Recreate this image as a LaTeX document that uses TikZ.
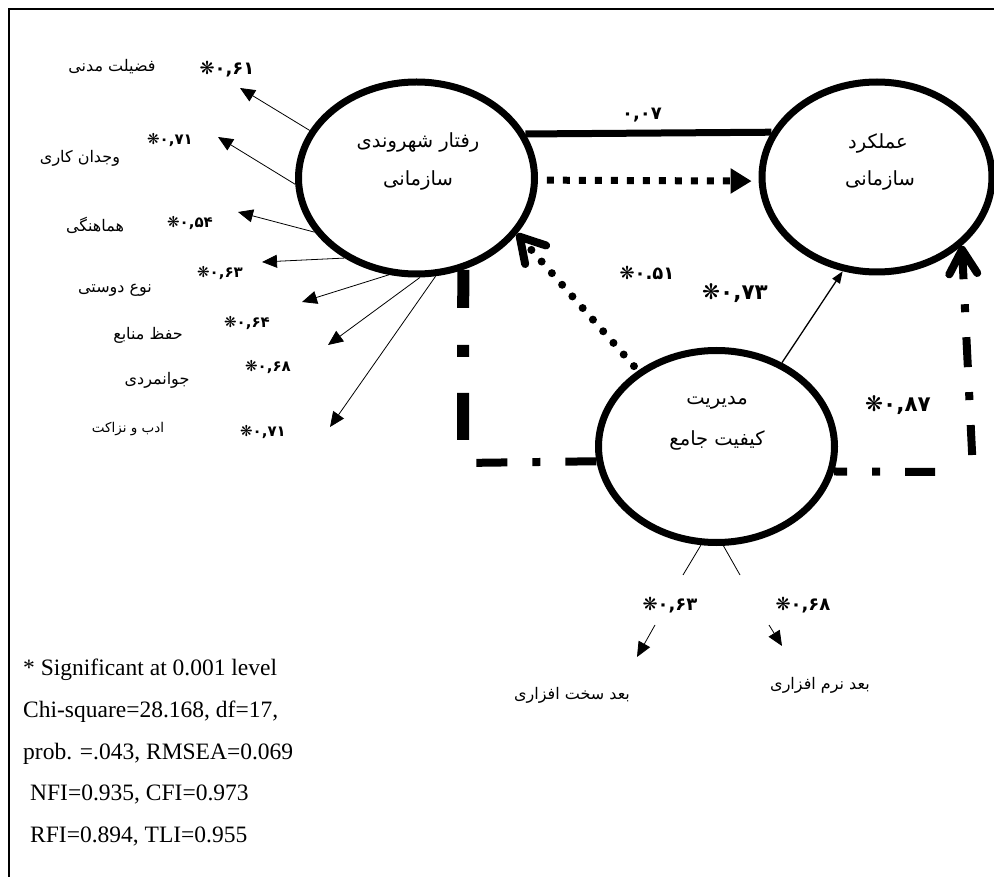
\documentclass[tikz,border=0pt]{standalone}
\usepackage{fontspec}
\setmainfont{Liberation Serif}
\newfontfamily\fafont[Script=Arabic]{DejaVu Sans}
\newfontfamily\numfont{DejaVu Sans}
\TeXXeTstate=1
\usetikzlibrary{arrows.meta,shapes.geometric}
\newcommand\starmark{{\mdseries ❋}}
\begin{document}
\begin{tikzpicture}[x=1pt,y=-1pt,
  ell/.style={ellipse, draw, line width=7pt, fill=white, minimum width=236pt, minimum height=192pt, inner sep=0pt},
  fa/.style={font=\fafont\fontsize{16}{18}\selectfont, inner sep=0pt},
  fasmall/.style={font=\fafont\fontsize{13.5}{15}\selectfont, inner sep=0pt},
  fabig/.style={font=\fafont\fontsize{19.5}{22}\selectfont, inner sep=0pt},
  val/.style={font=\numfont\bfseries\fontsize{15}{17}\selectfont, inner sep=0pt},
  valmid/.style={font=\numfont\bfseries\fontsize{18}{20}\selectfont, inner sep=0pt},
  valbig/.style={font=\numfont\bfseries\fontsize{21.5}{24}\selectfont, inner sep=0pt},
  ind/.style={line width=0.8pt, -{Triangle[length=15pt,width=13pt]}},
  thinline/.style={line width=0.8pt},
  eng/.style={font=\fontsize{23.5}{26}\selectfont, inner sep=0pt, anchor=base west},
  barb/.style={-{Straight Barb[length=24pt,width=28pt,round]}}
]
\useasboundingbox (0,0) rectangle (994,877);
\draw[line width=2pt] (9,877) -- (9,9) -- (994,9);

% ellipses
\node[ell] (e1) at (416.5,178) {};
\node[ell, minimum width=230pt, minimum height=190pt] (e2) at (877,177) {};
\node[ell] (e3) at (716.5,446.5) {};

\node[fabig] (e1a) at (418,142) {\beginR رفتار شهروندی\endR};
\node[fabig] (e1b) at (418,180) {\beginR سازمانی\endR};
\node[fabig] (e2a) at (878,143) {\beginR عملکرد\endR};
\node[fabig] (e2b) at (880,180) {\beginR سازمانی\endR};
\node[fabig] (e3a) at (717,403) {\beginR مدیریت\endR};
\node[fabig] (e3b) at (717,440) {\beginR کیفیت جامع\endR};

% indicator labels (left)
\node[fa] (l1) at (112,67) {\beginR فضیلت مدنی\endR};
\node[fa] (l2) at (80,158) {\beginR وجدان کاری\endR};
\node[fa] (l3) at (95,225) {\beginR هماهنگی\endR};
\node[fa] (l4) at (115,290) {\beginR نوع دوستی\endR};
\node[fa] (l5) at (148,335) {\beginR حفظ منابع\endR};
\node[fa] (l6) at (157,380) {\beginR جوانمردی\endR};
\node[fasmall] (l7) at (128,429) {\beginR ادب و نزاکت\endR};
\node[fa] (l8) at (572,695) {\beginR بعد سخت افزاری\endR};
\node[fa] (l9) at (820,685) {\beginR بعد نرم افزاری\endR};

% values
\node[valmid] (v1) at (227,69) {\starmark۰,۶۱};
\node[val] (v2) at (170,140) {\starmark۰,۷۱};
\node[val] (v3) at (190,223) {\starmark۰,۵۴};
\node[val] (v4) at (220,273) {\starmark۰,۶۳};
\node[val] (v5) at (247,323) {\starmark۰,۶۴};
\node[val] (v6) at (268,367) {\starmark۰,۶۸};
\node[val] (v7) at (263,432) {\starmark۰,۷۱};
\node[valmid] (v8) at (642,115) {۰,۰۷};
\node[valmid] (v9) at (647,273) {\starmark۰.۵۱};
\node[valbig] (v10) at (735,293) {\starmark۰,۷۳};
\node[valbig] (v11) at (898,405) {\starmark۰,۸۷};
\node[valmid] (v12) at (670,605) {\starmark۰,۶۳};
\node[valmid] (v13) at (803,605) {\starmark۰,۶۸};

% indicator arrows
\coordinate (t1) at (240,88);
\coordinate (t2) at (218,137);
\coordinate (t3) at (238,212);
\coordinate (t4) at (262,262);
\coordinate (t5) at (302,302);
\coordinate (t6) at (328,345);
\coordinate (t7) at (330,427);
\draw[ind] (e1.156.3) -- (t1);
\draw[ind] (e1.183.3) -- (t2);
\draw[ind] (e1.208.5) -- (t3);
\draw[ind] (e1.228.1) -- (t4);
\draw[ind] (e1.254.3) -- (t5);
\draw[ind] (e1.272.2) -- (t6);
\draw[ind] (e1.281.6) -- (t7);

% bottom indicators
\coordinate (bl1) at (683,575);
\coordinate (bl2) at (740,575);
\draw[thinline] (e3.261) -- (bl1);
\draw[thinline] (e3.274) -- (bl2);
\coordinate (ba1) at (655,625);
\coordinate (ba2) at (637,657);
\coordinate (bb1) at (769,625);
\coordinate (bb2) at (782,646);
\draw[ind] (ba1) -- (ba2);
\draw[ind] (bb1) -- (bb2);

% structural paths
\draw[line width=7pt] (e1.22.5) -- (e2.157.5);
\draw[line width=7pt, dash pattern=on 7pt off 9pt, shorten <=9pt, shorten >=7pt,
      -{Triangle[length=21pt,width=24pt]}] (e1.-1.5) -- (e2.182);
\draw[line width=8pt, line cap=round, dash pattern=on 0pt off 15.5pt, shorten <=6pt, barb] (e3.136) -- (e1.-29.5);
\draw[line width=1.3pt, -{Triangle[length=12pt,width=9pt]}] (e3.52.3) -- (e2.250.4);

% left dash-dot
\coordinate (lc) at (463,463);
\draw[line width=8pt, dash pattern=on 31pt off 25pt on 8pt off 25pt] (e3.187.84) -- (lc);
\draw[line width=12pt, dash pattern=on 38pt off 37pt on 12pt off 36pt on 47pt off 60pt] (e1.-63.2) -- (lc);

% right dash-dot
\coordinate (rc) at (973,472);
\draw[line width=8pt, dash pattern=on 13pt off 25pt on 8pt off 25pt on 30pt off 100pt] (e3.-12.25) -- (rc);
\draw[line width=8pt, dash pattern=on 30pt off 25pt on 8pt off 25pt, dash phase=71pt, barb] (rc) -- (e2.-39.2);

% fit statistics
\node[eng] (s1) at (23,675) {* Significant at 0.001 level};
\node[eng] (s2) at (23,717) {Chi-square=28.168, df=17,};
\node[eng] (s3) at (23,759) {prob. =.043, RMSEA=0.069};
\node[eng] (s4) at (30,800) {NFI=0.935, CFI=0.973};
\node[eng] (s5) at (30,842) {RFI=0.894, TLI=0.955};
\end{tikzpicture}
\end{document}
